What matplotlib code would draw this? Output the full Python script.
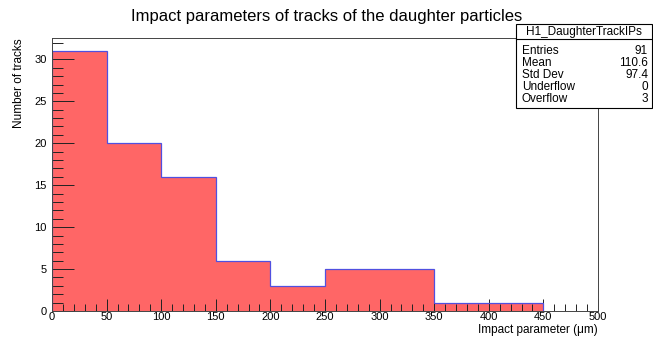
import numpy as np
import matplotlib.pyplot as plt
from matplotlib.patches import Rectangle
from matplotlib.lines import Line2D
from matplotlib.ticker import MultipleLocator

plt.rcParams['font.family'] = ['Liberation Sans', 'DejaVu Sans']

# histogram content
bin_edges = [0, 50, 100, 150, 200, 250, 300, 350, 400, 450]
counts = [31, 20, 16, 6, 3, 5, 5, 1, 1]

stat_names = ["Entries", "Mean", "Std Dev", "Underflow", "Overflow"]
stat_values = ["91", "110.6", "97.4", "0", "3"]

W, H = 653, 339
fig = plt.figure(figsize=(W / 100, H / 100), dpi=100)
ax = fig.add_axes([52 / W, 1 - 311 / H, (598 - 52) / W, (311 - 38) / H])

ax.stairs(counts, bin_edges, fill=True, color="#ff6666", zorder=1)
ax.stairs(counts, bin_edges, color="#5050e0", lw=0.9, zorder=2)

ax.set_xlim(0, 500)
ax.set_ylim(0, 1.05 * max(counts))
ax.xaxis.set_major_locator(MultipleLocator(50))
ax.xaxis.set_minor_locator(MultipleLocator(10))
ax.yaxis.set_major_locator(MultipleLocator(5))
ax.yaxis.set_minor_locator(MultipleLocator(1))
ax.tick_params(which="both", direction="in", top=False, right=False,
               labelsize=8, color="#222222", width=0.7)
ax.tick_params(axis="y", which="major", length=16, pad=4)
ax.tick_params(axis="y", which="minor", length=8)
ax.tick_params(axis="x", which="major", length=9, pad=1)
ax.tick_params(axis="x", which="minor", length=5)
for s in ax.spines.values():
    s.set_linewidth(0.7)
    s.set_color("#444444")
    s.set_zorder(5)

# axis titles placed ROOT-style: x title right-aligned, y title at top
fig.text(598 / W, 1 - 330 / H, "Impact parameter (\u03bcm)", ha="right", va="center",
         fontsize=8.5)
fig.text(19 / W, 1 - 38 / H, "Number of tracks", ha="center", va="top",
         rotation=90, fontsize=8.5)

fig.text(0.5, 1 - 16 / H, "Impact parameters of tracks of the daughter particles",
         ha="center", va="center", fontsize=12)

# statistics box
bx0, bx1, by0, by1, hdr = 516, 652, 24, 108, 39
fig.patches.append(Rectangle((bx0 / W, 1 - by1 / H), (bx1 - bx0) / W, (by1 - by0) / H,
                             transform=fig.transFigure, facecolor="white",
                             edgecolor="black", lw=0.8, zorder=10))
fig.lines.append(Line2D([bx0 / W, bx1 / W], [1 - hdr / H] * 2,
                        transform=fig.transFigure, color="black", lw=0.8, zorder=11))
fig.text((bx0 + bx1) / 2 / W, 1 - 31.5 / H, "H1_DaughterTrackIPs",
         ha="center", va="center", fontsize=8.5, zorder=12)
row_y = np.linspace(51.5, 99, len(stat_names))
for name, val, y in zip(stat_names, stat_values, row_y):
    fig.text((bx0 + 6) / W, 1 - y / H, name, ha="left", va="center", fontsize=8.5, zorder=12)
    fig.text((bx1 - 4) / W, 1 - y / H, val, ha="right", va="center", fontsize=8.5, zorder=12)

fig.savefig("out.png", dpi=100)
